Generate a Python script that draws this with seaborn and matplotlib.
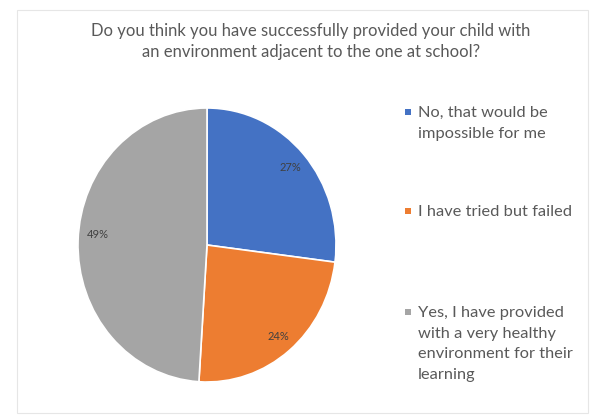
import matplotlib
matplotlib.use("Agg")
import matplotlib.pyplot as plt
from matplotlib.patches import Rectangle
import numpy as np
import seaborn as sns

categories = ["No, that would be\nimpossible for me",
              "I have tried but failed",
              "Yes, I have provided\nwith a very healthy\nenvironment for their\nlearning"]
values = [27, 24, 49]
pct_labels = ["27%", "24%", "49%"]
title = "Do you think you have successfully provided your child with\nan environment adjacent to the one at school?"

sns.set_theme(style="white")
plt.rcParams['font.family'] = ['Lato', 'DejaVu Sans']
colors = sns.color_palette(["#4472C4", "#ED7D31", "#A5A5A5"])

W, H = 595, 416
fig = plt.figure(figsize=(W / 100, H / 100), dpi=100)
fig.patch.set_facecolor("white")

# faint chart border
fig.patches.append(Rectangle((17 / W, 3 / H), 571 / W, 403 / H, transform=fig.transFigure,
                             fill=False, edgecolor="#E6E6E6", linewidth=0.8))

cx, cy, rx, ry = 207, 245, 129, 137
ax = fig.add_axes([(cx - rx) / W, (H - cy - ry) / H, 2 * rx / W, 2 * ry / H])
wedges, _ = ax.pie(values, colors=colors, startangle=90, counterclock=False,
                   radius=1, wedgeprops=dict(edgecolor="white", linewidth=1.2))

# label placement (style): radial distance and optional angle override
label_r = [0.86, 0.87, 0.85]
label_angle_override = [None, None, 175]
for w, lab, rr, ov in zip(wedges, pct_labels, label_r, label_angle_override):
    mid = (w.theta1 + w.theta2) / 2 if ov is None else ov
    ax.text(rr * np.cos(np.radians(mid)), rr * np.sin(np.radians(mid)), lab,
            ha="center", va="center", fontsize=8, color="#404040")
ax.set_xlim(-1, 1)
ax.set_ylim(-1, 1)
ax.set_aspect("auto")
ax.axis("off")

fig.text(311 / W, 1 - 41.5 / H, title, ha="center", va="center", fontsize=12,
         color="#595959", linespacing=1.4)

# legend
legend_y = [112, 211, 312]
for lab, col, y in zip(categories, colors, legend_y):
    fig.patches.append(Rectangle((405 / W, 1 - (y + 3) / H), 6 / W, 6 / H,
                                 transform=fig.transFigure, facecolor=col, edgecolor="none"))
    fig.text(418 / W, 1 - (y - 6) / H, lab, ha="left", va="top", fontsize=11.8,
             color="#595959", linespacing=1.6)

fig.savefig("out.png", dpi=100)
